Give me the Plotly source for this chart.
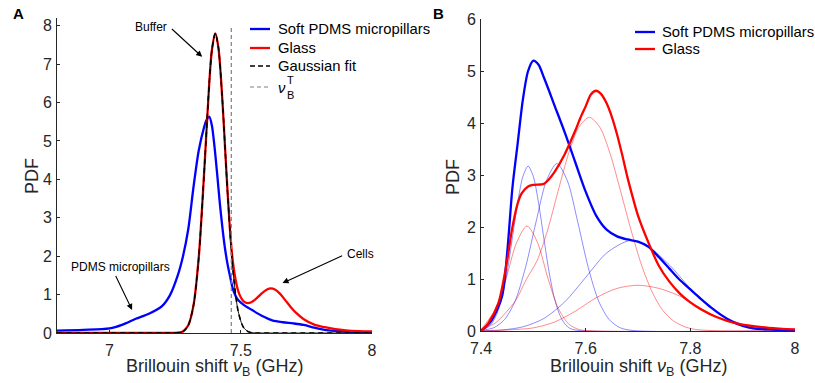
import plotly.graph_objects as go

# ---------------- Panel A data ----------------
a_blue_x = [6.8, 6.9, 7.0, 7.05, 7.1, 7.15, 7.2, 7.23, 7.26, 7.28, 7.30, 7.32, 7.34, 7.36, 7.37, 7.38,
            7.39, 7.40, 7.41, 7.42, 7.43, 7.44, 7.45, 7.46, 7.47, 7.48, 7.49, 7.51, 7.54, 7.58, 7.62,
            7.66, 7.70, 7.74, 7.78, 7.82, 7.87, 7.93, 8.0]
a_blue_y = [0.06, 0.08, 0.12, 0.22, 0.37, 0.5, 0.7, 0.98, 1.5, 2.0, 2.7, 3.8, 4.75, 5.35, 5.55, 5.63,
            5.4, 4.85, 4.15, 3.4, 2.75, 2.2, 1.78, 1.45, 1.15, 0.97, 0.86, 0.74, 0.61, 0.45, 0.33,
            0.28, 0.25, 0.21, 0.14, 0.08, 0.05, 0.02, 0.01]

a_red_x = [6.8, 7.2, 7.26, 7.28, 7.30, 7.32, 7.34, 7.36, 7.38, 7.39, 7.403, 7.415, 7.43, 7.44, 7.45, 7.46,
           7.47, 7.48, 7.49, 7.50, 7.51, 7.525, 7.54, 7.56, 7.58, 7.60, 7.615, 7.63, 7.65, 7.67, 7.69, 7.71,
           7.74, 7.78, 7.82, 7.86, 7.9, 7.95, 8.0]
a_red_y = [0.005, 0.005, 0.01, 0.04, 0.2, 0.72, 1.97, 4.11, 6.5, 7.36, 7.8, 7.42, 6.06, 4.85, 3.65, 2.6,
           1.85, 1.4, 1.1, 0.93, 0.83, 0.78, 0.8, 0.9, 1.03, 1.13, 1.16, 1.13, 1.02, 0.85, 0.68, 0.53,
           0.36, 0.22, 0.15, 0.1, 0.07, 0.05, 0.04]

a_fit_x = [6.8, 7.2, 7.26, 7.28, 7.30, 7.32, 7.34, 7.36, 7.38, 7.39, 7.403, 7.415, 7.43, 7.45, 7.47,
           7.49, 7.51, 7.53, 7.55, 7.6, 8.0]
a_fit_y = [0.0, 0.0, 0.007, 0.04, 0.2, 0.72, 1.97, 4.11, 6.5, 7.36, 7.8, 7.42, 6.06, 3.63, 1.65,
           0.57, 0.15, 0.03, 0.004, 0.0, 0.0]

a_thresh_x = [7.464, 7.464]
a_thresh_y = [0.0, 8.0]

# ---------------- Panel B data ----------------
b_blue_x = [7.40, 7.42, 7.44, 7.45, 7.46, 7.47, 7.48, 7.49, 7.50, 7.51, 7.52, 7.53, 7.54, 7.56, 7.58,
            7.60, 7.62, 7.64, 7.66, 7.68, 7.70, 7.72, 7.74, 7.76, 7.78, 7.80, 7.82, 7.84, 7.86, 7.88,
            7.90, 7.92, 7.95, 8.0]
b_blue_y = [0.0, 0.2, 0.66, 1.5, 2.75, 3.6, 4.45, 5.0, 5.2, 5.12, 4.88, 4.62, 4.35, 3.82, 3.25,
            2.68, 2.22, 1.95, 1.82, 1.76, 1.72, 1.62, 1.42, 1.2, 0.98, 0.8, 0.62, 0.45, 0.3, 0.18,
            0.1, 0.05, 0.03, 0.01]

b_red_x = [7.40, 7.414, 7.433, 7.449, 7.459, 7.47, 7.478, 7.49, 7.50, 7.52, 7.53, 7.54, 7.56, 7.58,
           7.59, 7.60, 7.61, 7.62, 7.63, 7.64, 7.65, 7.66, 7.67, 7.68, 7.69, 7.70, 7.72, 7.74, 7.76,
           7.78, 7.80, 7.82, 7.85, 7.89, 7.95, 8.0]
b_red_y = [0.0, 0.15, 0.53, 1.3, 1.94, 2.45, 2.65, 2.78, 2.81, 2.83, 2.92, 3.05, 3.4, 3.85,
           4.1, 4.32, 4.55, 4.62, 4.55, 4.38, 4.12, 3.78, 3.38, 2.95, 2.57, 2.22, 1.7, 1.25, 0.95,
           0.72, 0.55, 0.42, 0.27, 0.14, 0.06, 0.03]

# Fitted components (thin lines)
b_bc1_x = [7.40, 7.41, 7.42, 7.43, 7.44, 7.45, 7.46, 7.47, 7.48, 7.49, 7.50, 7.51, 7.52, 7.53,
           7.54, 7.55, 7.56, 7.57, 7.58, 7.60, 8.0]
b_bc1_y = [0.02, 0.05, 0.14, 0.32, 0.64, 1.14, 1.79, 2.46, 2.97, 3.17, 2.97, 2.46, 1.79, 1.14,
           0.64, 0.32, 0.14, 0.05, 0.02, 0.0, 0.0]

b_bc2_x = [7.40, 7.425, 7.445, 7.465, 7.485, 7.505, 7.525, 7.545, 7.565, 7.585, 7.605, 7.625,
           7.645, 7.665, 7.69, 8.0]
b_bc2_y = [0.01, 0.066, 0.22, 0.57, 1.22, 2.09, 2.89, 3.22, 2.89, 2.09, 1.22, 0.57,
           0.22, 0.066, 0.01, 0.0]

b_bc3_x = [7.40, 7.44, 7.48, 7.52, 7.56, 7.60, 7.64, 7.685, 7.72, 7.76, 7.80, 7.84, 7.88,
           7.92, 7.96, 8.0]
b_bc3_y = [0.005, 0.02, 0.08, 0.24, 0.56, 1.03, 1.50, 1.74, 1.62, 1.27, 0.82, 0.45, 0.2,
           0.08, 0.024, 0.005]

b_rc1_x = [7.40, 7.408, 7.428, 7.448, 7.468, 7.488, 7.508, 7.528, 7.548, 7.568, 7.588, 7.62, 8.0]
b_rc1_y = [0.03, 0.13, 0.43, 1.01, 1.70, 2.02, 1.70, 1.01, 0.43, 0.13, 0.027, 0.0, 0.0]

b_rc2_x = [7.40, 7.427, 7.447, 7.467, 7.487, 7.507, 7.527, 7.547, 7.567, 7.587, 7.607, 7.627,
           7.647, 7.667, 7.687, 7.707, 7.727, 7.747, 7.767, 7.787, 7.807, 7.85, 8.0]
b_rc2_y = [0.03, 0.15, 0.35, 0.6, 1.0, 1.35, 1.93, 2.68, 3.40, 3.92, 4.11, 3.92,
           3.40, 2.68, 1.93, 1.26, 0.75, 0.40, 0.20, 0.09, 0.035, 0.005, 0.0]

b_rc3_x = [7.40, 7.45, 7.50, 7.54, 7.58, 7.62, 7.66, 7.70, 7.74, 7.78, 7.82, 7.86, 7.90, 7.95, 8.0]
b_rc3_y = [0.0, 0.02, 0.06, 0.17, 0.38, 0.64, 0.82, 0.88, 0.82, 0.67, 0.44, 0.22, 0.11, 0.05, 0.02]

# ---------------- Tick labels ----------------
a_xticks = [7, 7.5, 8]
a_xticklabels = ["7", "7.5", "8"]
a_yticks = [0, 1, 2, 3, 4, 5, 6, 7, 8]
b_xticks = [7.4, 7.6, 7.8, 8]
b_xticklabels = ["7.4", "7.6", "7.8", "8"]
b_yticks = [0, 1, 2, 3, 4, 5, 6]

legend_a = ["Soft PDMS micropillars", "Glass", "Gaussian fit"]
legend_b = ["Soft PDMS micropillars", "Glass"]

BLUE = "#0000FF"
RED = "#FF0000"
FONT = "Liberation Sans, Arial, Helvetica, sans-serif"
AXC = "#262626"
W, H = 815, 383


def px(x):
    return x / W


def py(y):
    return 1 - y / H


fig = go.Figure()

# Panel A traces
fig.add_trace(go.Scatter(x=a_blue_x, y=a_blue_y, mode="lines", name=legend_a[0],
                         line=dict(color=BLUE, width=2.3, shape="spline", smoothing=0.8),
                         xaxis="x", yaxis="y"))
fig.add_trace(go.Scatter(x=a_red_x, y=a_red_y, mode="lines", name=legend_a[1],
                         line=dict(color=RED, width=2.3, shape="spline", smoothing=0.8),
                         xaxis="x", yaxis="y"))
fig.add_trace(go.Scatter(x=a_fit_x, y=a_fit_y, mode="lines", name="fit (thin)",
                         line=dict(color="black", width=0.9, shape="spline", smoothing=0.8),
                         xaxis="x", yaxis="y", hoverinfo="skip"))
fig.add_trace(go.Scatter(x=a_fit_x, y=a_fit_y, mode="lines", name=legend_a[2],
                         line=dict(color="black", width=1.6, dash="5px,4px", shape="spline", smoothing=0.8),
                         xaxis="x", yaxis="y"))
fig.add_trace(go.Scatter(x=a_thresh_x, y=a_thresh_y, mode="lines", name="ν_B^T",
                         line=dict(color="#7f7f7f", width=1.2, dash="4px,3px"),
                         xaxis="x", yaxis="y"))

# Panel B component traces (thin)
for xs, ys, col in [(b_bc1_x, b_bc1_y, "rgba(0,0,255,0.45)"), (b_bc2_x, b_bc2_y, "rgba(0,0,255,0.45)"),
                    (b_bc3_x, b_bc3_y, "rgba(0,0,255,0.45)"), (b_rc1_x, b_rc1_y, "rgba(255,0,0,0.45)"),
                    (b_rc2_x, b_rc2_y, "rgba(255,0,0,0.45)"), (b_rc3_x, b_rc3_y, "rgba(255,0,0,0.45)")]:
    fig.add_trace(go.Scatter(x=xs, y=ys, mode="lines",
                             line=dict(color=col, width=1, shape="spline", smoothing=0.8),
                             xaxis="x2", yaxis="y2", hoverinfo="skip"))

fig.add_trace(go.Scatter(x=b_blue_x, y=b_blue_y, mode="lines", name=legend_b[0],
                         line=dict(color=BLUE, width=2.3, shape="spline", smoothing=0.8),
                         xaxis="x2", yaxis="y2"))
fig.add_trace(go.Scatter(x=b_red_x, y=b_red_y, mode="lines", name=legend_b[1],
                         line=dict(color=RED, width=2.3, shape="spline", smoothing=0.8),
                         xaxis="x2", yaxis="y2"))

axis_common = dict(showgrid=False, zeroline=False, showline=True, linecolor=AXC, linewidth=1,
                   ticks="inside", ticklen=3, tickcolor=AXC, tickwidth=1, automargin=False,
                   tickfont=dict(family=FONT, size=16, color=AXC), mirror=False)

fig.update_layout(
    width=W, height=H,
    margin=dict(l=0, r=0, t=0, b=0, autoexpand=False),
    paper_bgcolor="white", plot_bgcolor="white",
    font=dict(family=FONT, color=AXC),
    showlegend=False,
    xaxis=dict(domain=[57 / W, 372 / W], range=[6.8, 8.0], tickvals=a_xticks, ticktext=a_xticklabels,
               anchor="y", ticklabelstandoff=3, **axis_common),
    yaxis=dict(domain=[(H - 333) / H, (H - 18) / H], range=[0, 8.2], tickvals=a_yticks,
               anchor="x", ticklabelstandoff=1, **axis_common),
    xaxis2=dict(domain=[481 / W, 795 / W], range=[7.4, 8.0], tickvals=b_xticks, ticktext=b_xticklabels,
                anchor="y2", ticklabelstandoff=3, **axis_common),
    yaxis2=dict(domain=[(H - 331) / H, (H - 19) / H], range=[0, 6], tickvals=b_yticks,
                anchor="x2", ticklabelstandoff=1, **axis_common),
)

xtitle = "Brillouin shift <i>ν</i><sub>B</sub> (GHz)"
title_font = dict(family=FONT, size=18, color=AXC)
ann_font = dict(family=FONT, size=12, color="black")
leg_font = dict(family=FONT, size=14.8, color="black")

annotations = [
    dict(text="<b>A</b>", x=px(11), y=py(13), showarrow=False, xanchor="left", yanchor="middle",
         font=dict(family=FONT, size=15, color="black")),
    dict(text="<b>B</b>", x=px(431), y=py(13), showarrow=False, xanchor="left", yanchor="middle",
         font=dict(family=FONT, size=15, color="black")),
    # axis titles
    dict(text=xtitle, x=px(214), y=py(367), showarrow=False, xanchor="center", yanchor="middle", font=title_font),
    dict(text=xtitle, x=px(638), y=py(367), showarrow=False, xanchor="center", yanchor="middle", font=title_font),
    dict(text="PDF", x=px(32), y=py(176), showarrow=False, textangle=-90, xanchor="center", yanchor="middle",
         font=title_font),
    dict(text="PDF", x=px(453), y=py(177), showarrow=False, textangle=-90, xanchor="center", yanchor="middle",
         font=title_font),
]
for a in annotations:
    a.update(xref="paper", yref="paper")

# Panel A arrow annotations
annotations += [
    dict(text="Buffer", x=7.226, y=7.97, xref="x", yref="y", showarrow=False, xanchor="right",
         yanchor="middle", font=ann_font),
    dict(text="", x=7.353, y=7.19, ax=7.232, ay=7.95, xref="x", yref="y", axref="x", ayref="y",
         showarrow=True, arrowhead=2, arrowsize=1.1, arrowwidth=1.1, arrowcolor="black"),
    dict(text="PDMS micropillars", x=7.04, y=1.72, xref="x", yref="y", showarrow=False, xanchor="center",
         yanchor="middle", font=ann_font),
    dict(text="", x=7.086, y=0.6, ax=7.021, ay=1.52, xref="x", yref="y", axref="x", ayref="y",
         showarrow=True, arrowhead=2, arrowsize=1.1, arrowwidth=1.1, arrowcolor="black"),
    dict(text="Cells", x=7.899, y=2.06, xref="x", yref="y", showarrow=False, xanchor="left",
         yanchor="middle", font=ann_font),
    dict(text="", x=7.659, y=1.30, ax=7.892, ay=2.03, xref="x", yref="y", axref="x", ayref="y",
         showarrow=True, arrowhead=2, arrowsize=1.1, arrowwidth=1.1, arrowcolor="black"),
]

# Legends (drawn as line samples + text)
shapes = []
leg_a_rows = [29, 48, 66]
leg_a_styles = [dict(color=BLUE, width=2.3), dict(color=RED, width=2.3),
                dict(color="black", width=1.6, dash="5px,3px")]
for row, label, st in zip(leg_a_rows, legend_a, leg_a_styles):
    shapes.append(dict(type="line", xref="paper", yref="paper", x0=px(250), x1=px(270), y0=py(row), y1=py(row),
                       line=st))
    annotations.append(dict(text=label, x=px(276), y=py(row), xref="paper", yref="paper", showarrow=False,
                            xanchor="left", yanchor="middle", font=leg_font))
# threshold entry
shapes.append(dict(type="line", xref="paper", yref="paper", x0=px(250), x1=px(270), y0=py(87), y1=py(87),
                   line=dict(color="#7f7f7f", width=1.2, dash="4px,3px")))
annotations += [
    dict(text="<i>ν</i>", x=px(276), y=py(88), xref="paper", yref="paper", showarrow=False,
         xanchor="left", yanchor="middle", font=leg_font),
    dict(text="T", x=px(285), y=py(80), xref="paper", yref="paper", showarrow=False,
         xanchor="left", yanchor="middle", font=dict(family=FONT, size=11, color="black")),
    dict(text="B", x=px(285), y=py(95), xref="paper", yref="paper", showarrow=False,
         xanchor="left", yanchor="middle", font=dict(family=FONT, size=11, color="black")),
]

leg_b_rows = [32, 49]
leg_b_styles = [dict(color=BLUE, width=2.3), dict(color=RED, width=2.3)]
for row, label, st in zip(leg_b_rows, legend_b, leg_b_styles):
    shapes.append(dict(type="line", xref="paper", yref="paper", x0=px(635), x1=px(655), y0=py(row), y1=py(row),
                       line=st))
    annotations.append(dict(text=label, x=px(660), y=py(row), xref="paper", yref="paper", showarrow=False,
                            xanchor="left", yanchor="middle", font=leg_font))

fig.update_layout(annotations=annotations, shapes=shapes)

# remove the default 8px page margin so the figure sits at the window's top-left corner
fig.write_html("out.html", config={"displayModeBar": False},
               post_script="document.body.style.margin='0';")
